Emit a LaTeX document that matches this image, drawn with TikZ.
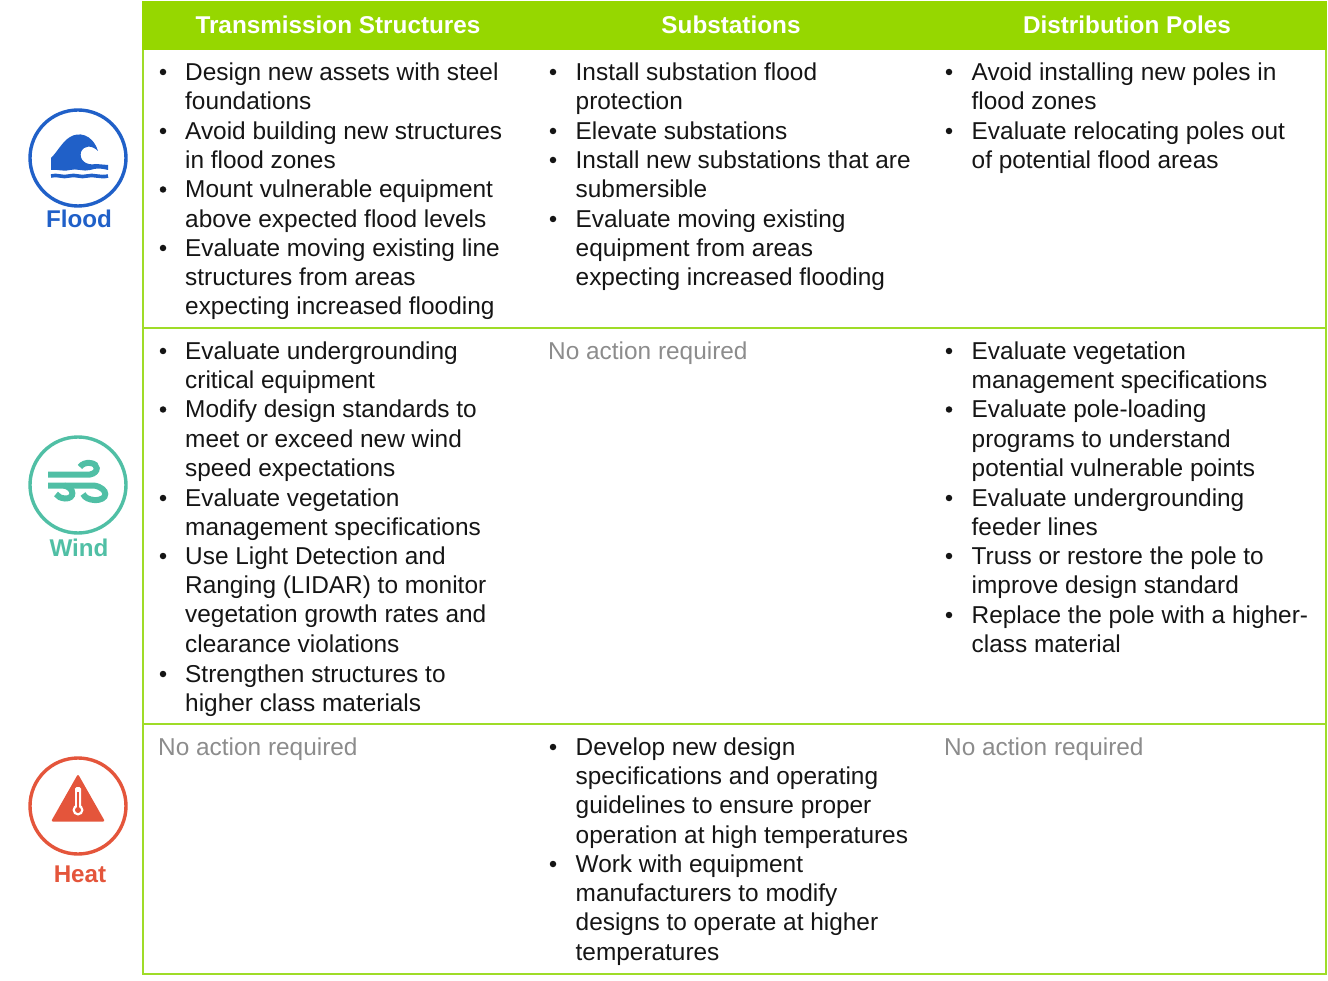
\documentclass[tikz,border=0pt]{standalone}
\usepackage{fontspec}
\setmainfont{Liberation Sans}
\definecolor{hdrgreen}{HTML}{96D700}
\definecolor{rulegreen}{HTML}{9FDC28}
\definecolor{floodblue}{HTML}{2060C8}
\definecolor{windteal}{HTML}{50BFA5}
\definecolor{heatred}{HTML}{E4553B}
\definecolor{noaction}{HTML}{8C8C8C}
\definecolor{cellink}{HTML}{151515}
\tikzset{
  celltext/.style={anchor=north west, inner sep=0pt, align=left, text=cellink, font=\fontsize{24.4}{29.35}\selectfont},
  nonetext/.style={celltext, text=noaction},
  hdrtext/.style={text=white, inner sep=0pt, font=\fontsize{24.3}{29}\selectfont\bfseries},
  hazard/.style={inner sep=0pt, font=\fontsize{24.2}{29}\selectfont\bfseries},
  dot/.style={circle, fill=cellink, inner sep=0pt, minimum size=6.5pt},
  rule/.style={rulegreen, line width=2.6pt},
  ring/.style={line width=3.4pt}
}
% one bullet: name, x of the dot, x of the text, y of the first line, text
\newcommand{\cellitem}[5]{
  \node[dot] (#1dot) at (#2, #4) {};
  \node[celltext] (#1) at (#3, #4-12) {\rule{0pt}{20pt}#5};
}
\begin{document}
\begin{tikzpicture}[x=1pt, y=-1pt]
\useasboundingbox (0,0) rectangle (1328,981);

% table
\fill[hdrgreen] (142,1) rectangle (1327,50);
\draw[rule] (143,50) -- (143,975);
\draw[rule] (1326,50) -- (1326,975);
\draw[rule] (143,328) -- (1326,328);
\draw[rule] (143,724) -- (1326,724);
\draw[rule] (143,974) -- (1326,974);

\node[hdrtext] (hdrT) at (338,25) {Transmission Structures};
\node[hdrtext] (hdrS) at (731,25) {Substations};
\node[hdrtext] (hdrD) at (1127,25) {Distribution Poles};

% flood row
\cellitem{fta}{163}{185}{72}{Design new assets with steel\\foundations}
\cellitem{ftb}{163}{185}{131}{Avoid building new structures\\in flood zones}
\cellitem{ftc}{163}{185}{189.5}{Mount vulnerable equipment\\above expected flood levels}
\cellitem{ftd}{163}{185}{248}{Evaluate moving existing line\\structures from areas\\expecting increased flooding}
\cellitem{fsa}{553}{575.5}{72}{Install substation flood\\protection}
\cellitem{fsb}{553}{575.5}{131}{Elevate substations}
\cellitem{fsc}{553}{575.5}{160}{Install new substations that are\\submersible}
\cellitem{fsd}{553}{575.5}{219}{Evaluate moving existing\\equipment from areas\\expecting increased flooding}
\cellitem{fda}{949}{971.5}{72}{Avoid installing new poles in\\flood zones}
\cellitem{fdb}{949}{971.5}{131}{Evaluate relocating poles out\\of potential flood areas}

% wind row
\cellitem{wta}{163}{185}{351}{Evaluate undergrounding\\critical equipment}
\cellitem{wtb}{163}{185}{409.5}{Modify design standards to\\meet or exceed new wind\\speed expectations}
\cellitem{wtc}{163}{185}{498}{Evaluate vegetation\\management specifications}
\cellitem{wtd}{163}{185}{556}{Use Light Detection and\\Ranging (LIDAR) to monitor\\vegetation growth rates and\\clearance violations}
\cellitem{wte}{163}{185}{674}{Strengthen structures to\\higher class materials}
\node[nonetext] (wsn) at (548,339) {\rule{0pt}{20pt}No action required};
\cellitem{wda}{949}{971.5}{351}{Evaluate vegetation\\management specifications}
\cellitem{wdb}{949}{971.5}{409.5}{Evaluate pole-loading\\programs to understand\\potential vulnerable points}
\cellitem{wdc}{949}{971.5}{498}{Evaluate undergrounding\\feeder lines}
\cellitem{wdd}{949}{971.5}{556}{Truss or restore the pole to\\improve design standard}
\cellitem{wde}{949}{971.5}{615}{Replace the pole with a higher-\\class material}

% heat row
\node[nonetext] (htn) at (158,735) {\rule{0pt}{20pt}No action required};
\cellitem{hsa}{553}{575.5}{747}{Develop new design\\specifications and operating\\guidelines to ensure proper\\operation at high temperatures}
\cellitem{hsb}{553}{575.5}{864}{Work with equipment\\manufacturers to modify\\designs to operate at higher\\temperatures}
\node[nonetext] (hdn) at (944,735) {\rule{0pt}{20pt}No action required};

% flood icon
\draw[floodblue, ring] (78,158) circle (48);
\fill[floodblue] (51,170) -- (51,158) .. controls (58,151) and (62,142) .. (70,137)
  .. controls (78,132) and (92,133) .. (98,151)
  .. controls (92,145) and (84,145) .. (81,152)
  .. controls (79,160) and (86,166) .. (96,164)
  -- (108,165) -- (108,170) .. controls (100,168) and (97,168) .. (90,170)
  .. controls (84,172) and (76,168) .. (70,170) .. controls (64,172) and (58,169) .. (51,170) -- cycle;
\draw[floodblue, line width=3.6pt] (51,176) .. controls (57,174) and (63,178) .. (69,176)
  .. controls (75,174) and (81,178) .. (87,176) .. controls (93,174) and (100,178) .. (108,176);
\node[hazard, text=floodblue] (floodlbl) at (79,219) {Flood};

% wind icon
\draw[windteal, ring] (78,485) circle (48);
\draw[windteal, line width=6pt] (48,474.5) -- (90,474.5)
  .. controls (99,473) and (99,463.5) .. (90,463) .. controls (86,462.5) and (82,464) .. (80,467);
\draw[windteal, line width=6pt] (48,485.5) -- (94,485.5)
  .. controls (109,488) and (109,501) .. (94,500) .. controls (89,499.5) and (85,498) .. (83,494);
\draw[windteal, line width=6pt] (64,485.5)
  .. controls (75,488) and (75,499) .. (65,498.5) .. controls (61,498) and (58,497) .. (56,494);
\node[hazard, text=windteal] (windlbl) at (79,548) {Wind};

% heat icon
\draw[heatred, ring] (78,806) circle (48);
\fill[heatred, rounded corners=2pt] (78,774) -- (105,821.5) -- (51,821.5) -- cycle;
\fill[white] (78,810) circle (5.5);
\fill[white, rounded corners=1.5pt] (75,787) rectangle (81,808);
\fill[heatred] (78,810) circle (3);
\fill[heatred] (77.2,792) rectangle (78.8,808);
\node[hazard, text=heatred] (heatlbl) at (80,874) {Heat};

\end{tikzpicture}
\end{document}
